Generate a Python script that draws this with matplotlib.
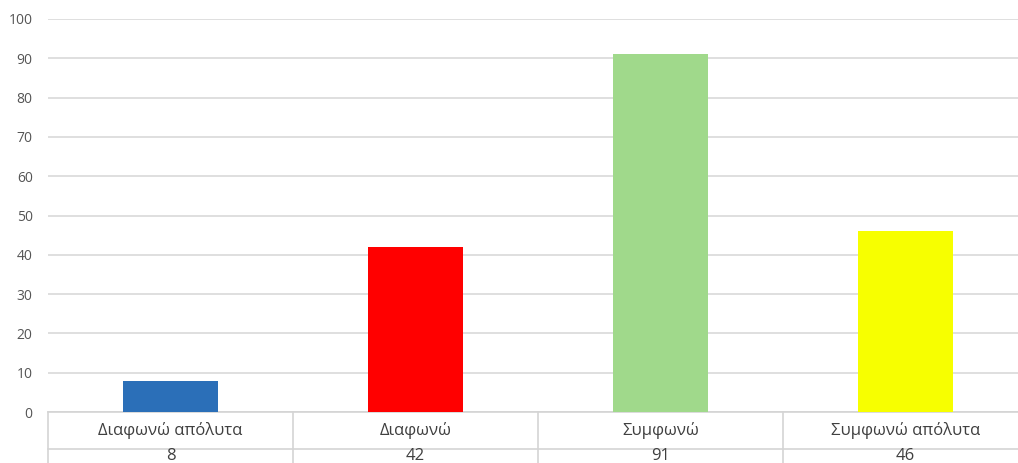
import matplotlib
matplotlib.use('Agg')
import matplotlib.pyplot as plt

# --- δεδομένα ---
categories = ['Διαφωνώ απόλυτα', 'Διαφωνώ', 'Συμφωνώ', 'Συμφωνώ απόλυτα']
values = [8, 42, 91, 46]
colors = ['#2B6FB8', '#FF0000', '#A0D98B', '#F7FF00']
y_ticks = list(range(0, 101, 10))

plt.rcParams['font.family'] = ['Open Sans', 'DejaVu Sans']

fig = plt.figure(figsize=(10.18, 4.63), dpi=100)
# το γράφημα συνεχίζει λίγο πέρα από τη δεξιά άκρη
ax = fig.add_axes([48 / 1018, 51 / 463, 980 / 1018, 393 / 463])

x = list(range(len(categories)))
ax.bar(x, values, width=0.39, color=colors, zorder=3)

ax.set_xlim(-0.5, len(categories) - 0.5)
ax.set_ylim(0, 100)
ax.set_yticks(y_ticks)
ax.set_xticks([])
ax.tick_params(axis='y', length=0, pad=11, labelsize=10, labelcolor='#555555')
for lbl in ax.get_yticklabels():
    lbl.set_horizontalalignment('right')
ax.grid(axis='y', color='#D9D9D9', linewidth=1.2, zorder=0)
for s in ax.spines.values():
    s.set_visible(False)

# --- πίνακας δεδομένων κάτω από τον άξονα ---
line_kw = dict(color='#D4D4D4', linewidth=1.2, clip_on=False, zorder=2)
row1 = -9.4
row_bottom = -14
ax.plot([-0.5, len(categories) - 0.5], [0, 0], **line_kw)
ax.plot([-0.5, len(categories) - 0.5], [row1, row1], **line_kw)
for i in range(len(categories) + 1):
    ax.plot([i - 0.5, i - 0.5], [0, row_bottom], **line_kw)

for i, (cat, val) in enumerate(zip(categories, values)):
    ax.text(i, row1 / 2, cat, ha='center', va='center', fontsize=12,
            color='#404040', clip_on=False)
    ax.text(i, row1 - 1.8, str(val), ha='center', va='center', fontsize=12,
            color='#404040', clip_on=False)

fig.savefig('out.png', dpi=100)
